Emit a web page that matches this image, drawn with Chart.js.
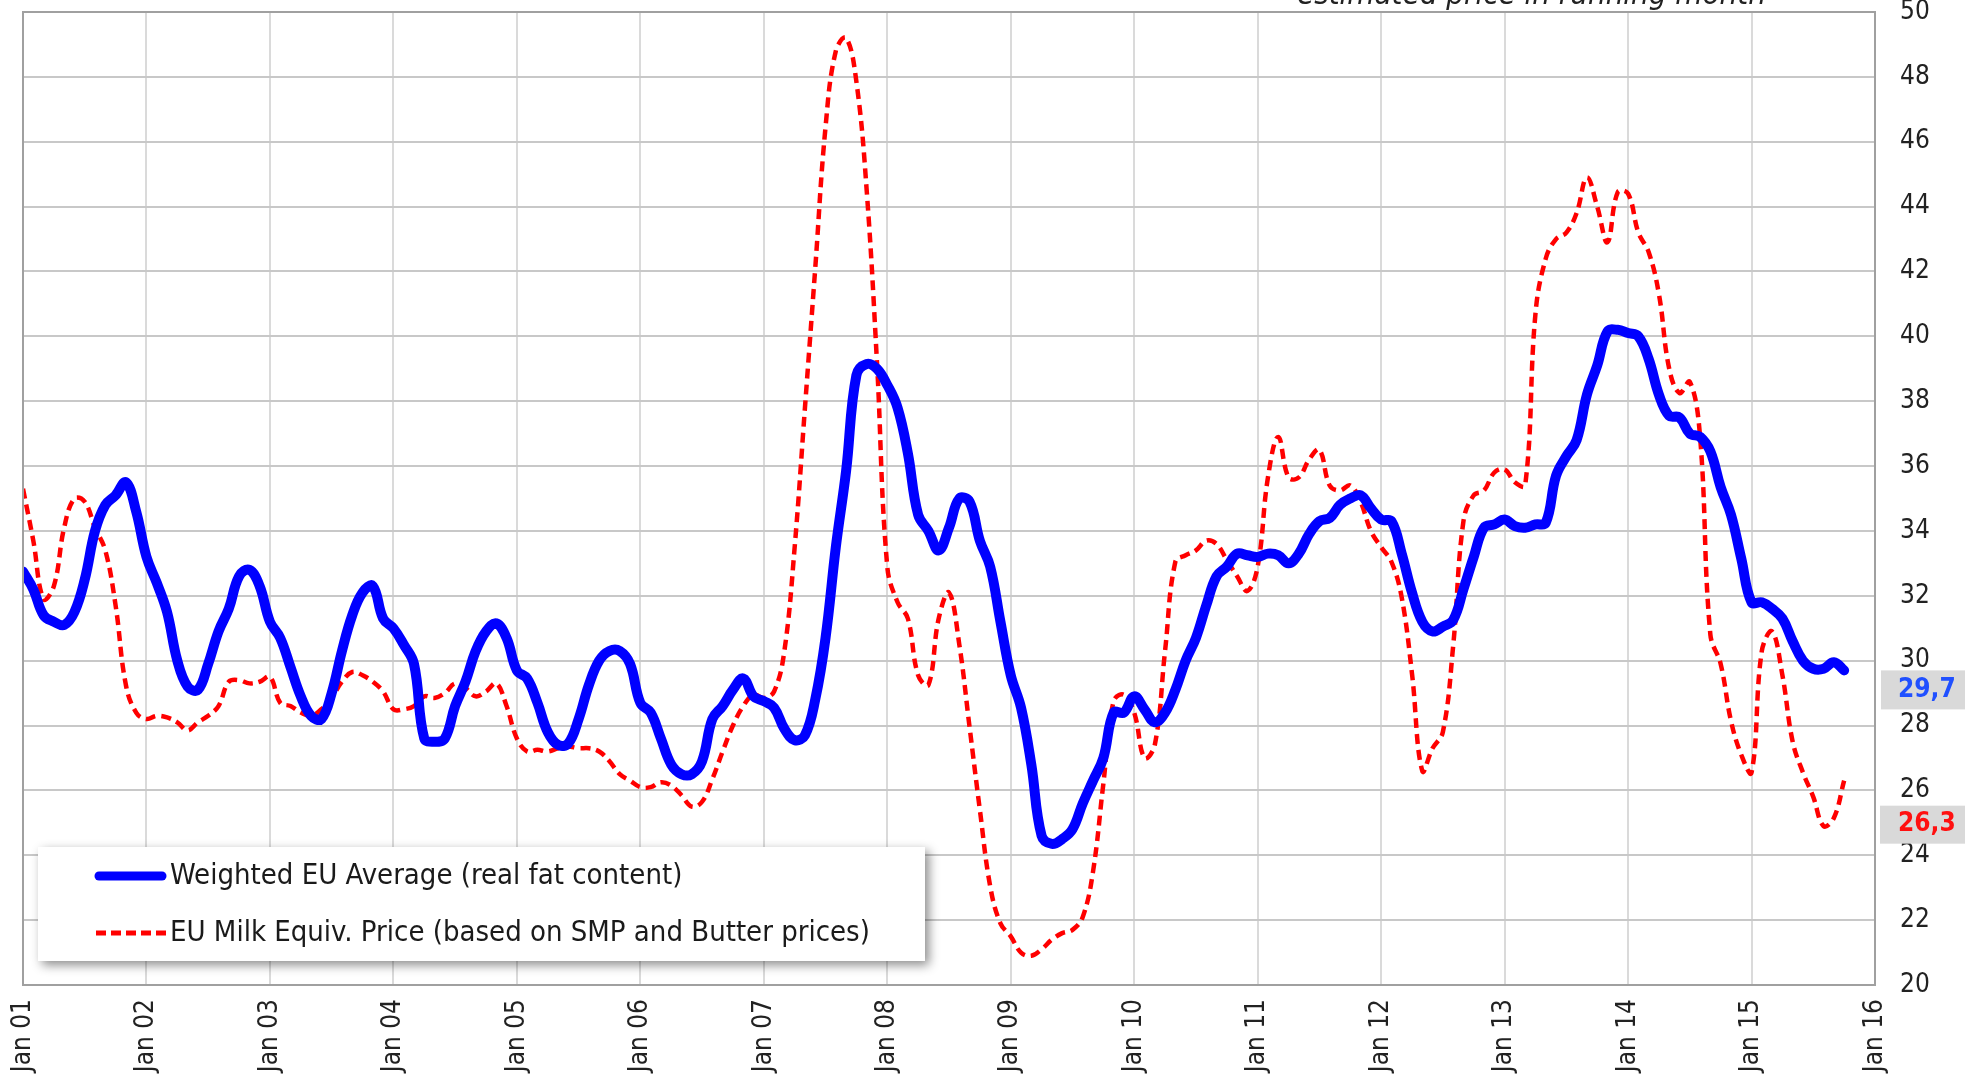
<!DOCTYPE html>
<html>
<head>
<meta charset="utf-8">
<title>EU milk prices</title>
<script src="https://cdn.jsdelivr.net/npm/chart.js@4.4.1/dist/chart.umd.min.js"></script>
<style>
  html, body { margin: 0; padding: 0; background: #fff; overflow: hidden; }
  #wrap { width: 1965px; height: 1083px; }
</style>
</head>
<body>
<div id="wrap"><canvas id="milkChart" width="1965" height="1083"></canvas></div>
<script>
// monthly values, Jan 2001 .. Oct 2015
const yearTicks = ['Jan 01', 'Jan 02', 'Jan 03', 'Jan 04', 'Jan 05', 'Jan 06', 'Jan 07', 'Jan 08',
  'Jan 09', 'Jan 10', 'Jan 11', 'Jan 12', 'Jan 13', 'Jan 14', 'Jan 15', 'Jan 16']

const weightedAvg = [
  32.75, 32.2, 31.4, 31.2, 31.1, 31.5, 32.5, 34.0, 34.8, 35.1, 35.5, 34.6,
  33.2, 32.4, 31.5, 30.0, 29.2, 29.1, 29.9, 30.9, 31.6, 32.6, 32.8, 32.3,
  31.2, 30.7, 29.8, 28.9, 28.3, 28.2, 29.0, 30.3, 31.4, 32.1, 32.3, 31.3,
  31.0, 30.5, 29.9, 27.6, 27.5, 27.6, 28.6, 29.35, 30.3, 30.9, 31.15, 30.7,
  29.7, 29.45, 28.7, 27.8, 27.4, 27.45, 28.2, 29.25, 30.0, 30.3, 30.3, 29.9,
  28.7, 28.4, 27.6, 26.8, 26.5, 26.5, 26.9, 28.2, 28.6, 29.1, 29.45, 28.9,
  28.75, 28.55, 27.9, 27.55, 27.7, 28.8, 30.7, 33.5, 35.85, 38.8, 39.15, 39.0,
  38.5, 37.8, 36.4, 34.5, 34.0, 33.4, 34.1, 35.0, 34.9, 33.7, 32.9, 31.2,
  29.55, 28.55, 26.8, 24.6, 24.35, 24.5, 24.8, 25.6, 26.3, 27.0, 28.4, 28.4,
  28.9, 28.5, 28.1, 28.4, 29.1, 30.0, 30.7, 31.7, 32.6, 32.9, 33.3, 33.25,
  33.2, 33.3, 33.25, 33.0, 33.3, 33.9, 34.3, 34.4, 34.8, 35.0, 35.1, 34.7,
  34.35, 34.3, 33.3, 32.1, 31.2, 30.9, 31.05, 31.25, 32.2, 33.2, 34.1, 34.2,
  34.35, 34.15, 34.1, 34.2, 34.25, 35.7, 36.3, 36.8, 38.2, 39.1, 40.15, 40.2,
  40.1, 40.0, 39.3, 38.2, 37.55, 37.5, 37.0, 36.9, 36.45, 35.35, 34.5, 33.15,
  31.8, 31.8, 31.6, 31.3, 30.6, 30.0, 29.75, 29.75, 29.95, 29.7
]

const milkEquiv = [
  35.3, 33.7, 31.9, 32.3, 34.1, 35.0, 34.9, 34.1, 33.4, 31.7, 29.25, 28.4,
  28.2, 28.3, 28.25, 28.1, 27.85, 28.1, 28.3, 28.6, 29.35, 29.4, 29.3, 29.35,
  29.5, 28.7, 28.6, 28.4, 28.3, 28.5, 28.85, 29.35, 29.65, 29.55, 29.35, 29.05,
  28.5, 28.5, 28.6, 28.9, 28.85, 29.0, 29.3, 29.15, 28.9, 29.05, 29.3, 28.6,
  27.6, 27.2, 27.25, 27.2, 27.3, 27.35, 27.3, 27.3, 27.2, 26.9, 26.5, 26.3,
  26.1, 26.1, 26.25, 26.15, 25.85, 25.5, 25.65, 26.35, 27.2, 28.0, 28.6, 28.95,
  28.85, 29.05, 30.3, 33.5, 37.8, 42.1, 46.45, 48.8, 49.2, 47.85, 44.5, 39.2,
  32.9, 31.8, 31.3, 29.55, 29.25, 31.3, 32.1, 30.5, 27.95, 25.4, 23.05, 21.9,
  21.5, 21.0, 20.9, 21.1, 21.4, 21.6, 21.7, 22.1, 23.5, 26.2, 28.75, 28.95,
  28.4, 27.0, 27.4, 30.3, 33.05, 33.25, 33.4, 33.7, 33.6, 33.1, 32.6, 32.15,
  32.9, 35.65, 36.9, 35.65, 35.65, 36.2, 36.5, 35.4, 35.25, 35.4, 34.9, 34.0,
  33.5, 33.05, 31.95, 29.6, 26.6, 27.3, 27.8, 30.45, 34.3, 35.1, 35.25, 35.8,
  35.9, 35.5, 35.4, 40.7, 42.4, 43.0, 43.2, 43.8, 44.9, 44.0, 42.9, 44.45,
  44.4, 43.2, 42.6, 41.3, 39.0, 38.25, 38.6, 36.9, 30.8, 29.9, 28.15, 27.1,
  26.55, 30.3, 30.9, 29.55, 27.5, 26.55, 25.8, 24.9, 25.15, 26.3
]

const seriesNames = [
  'Weighted EU Average (real fat content)',
  'EU Milk Equiv. Price (based on SMP and Butter prices)'
]
const lastLabels = ['29,7', '26,3']
const noteText = '* estimated price in running month'

const FONT = "'DejaVu Sans Condensed', 'DejaVu Sans', sans-serif"
const BLUE = '#0000ff'
const RED = '#ff0000'

const toPoints = arr => arr.map((v, i) => ({ x: i, y: v }))

// frame, legend box, end-value boxes and the note at the top
const extras = {
  id: 'extras',
  afterDraw(chart) {
    const { ctx, chartArea: a } = chart
    const y = chart.scales.y

    ctx.save()
    ctx.strokeStyle = '#a0a0a0'
    ctx.lineWidth = 2
    ctx.strokeRect(a.left, a.top, a.right - a.left, a.bottom - a.top)

    // legend
    const lx = 38, ly = 847, lw = 887, lh = 114
    ctx.save()
    ctx.shadowColor = 'rgba(0,0,0,0.45)'
    ctx.shadowBlur = 10
    ctx.shadowOffsetX = 4
    ctx.shadowOffsetY = 4
    ctx.fillStyle = '#fff'
    ctx.fillRect(lx, ly, lw, lh)
    ctx.restore()

    ctx.lineCap = 'round'
    ctx.strokeStyle = BLUE
    ctx.lineWidth = 9
    ctx.beginPath(); ctx.moveTo(99, 876); ctx.lineTo(162, 876); ctx.stroke()
    ctx.strokeStyle = RED
    ctx.lineWidth = 5
    ctx.lineCap = 'butt'
    ctx.setLineDash([10, 5])
    ctx.beginPath(); ctx.moveTo(96, 933); ctx.lineTo(168, 933); ctx.stroke()
    ctx.setLineDash([])

    ctx.fillStyle = '#1a1a1a'
    ctx.font = '29px ' + FONT
    ctx.textBaseline = 'middle'
    ctx.textAlign = 'left'
    ctx.fillText(seriesNames[0], 170, 876)
    ctx.fillText(seriesNames[1], 170, 933)

    // last values
    const yb = y.getPixelForValue(weightedAvg[weightedAvg.length - 1])
    const yr = y.getPixelForValue(milkEquiv[milkEquiv.length - 1]) + 25
    ctx.fillStyle = '#d9d9d9'
    ctx.fillRect(1881, yb, 84, 39)
    ctx.fillRect(1880, yr, 85, 38)
    ctx.font = 'bold 26px ' + FONT
    ctx.fillStyle = '#2050ff'
    ctx.fillText(lastLabels[0], 1898, yb + 20)
    ctx.fillStyle = '#ff1010'
    ctx.fillText(lastLabels[1], 1898, yr + 19)

    // note, cut by the top edge
    ctx.font = 'italic 31px ' + FONT
    ctx.fillStyle = '#222'
    ctx.textAlign = 'center'
    ctx.textBaseline = 'alphabetic'
    ctx.fillText(noteText, 1520, 4)
    ctx.restore()
  }
}

new Chart(document.getElementById('milkChart'), {
  type: 'line',
  data: {
    datasets: [{
      label: seriesNames[0],
      data: toPoints(weightedAvg),
      borderColor: BLUE,
      borderWidth: 10,
      borderCapStyle: 'round',
      borderJoinStyle: 'round',
      pointRadius: 0,
      tension: 0.4,
      fill: false
    }, {
      label: seriesNames[1],
      data: toPoints(milkEquiv),
      borderColor: RED,
      borderWidth: 4.5,
      borderDash: [10, 6],
      pointRadius: 0,
      tension: 0.4,
      fill: false
    }]
  },
  options: {
    responsive: false,
    animation: false,
    layout: { padding: { left: 23, top: 12 } },
    plugins: {
      legend: { display: false },
      tooltip: { enabled: false }
    },
    scales: {
      x: {
        type: 'linear',
        min: 0,
        max: 180,
        afterFit: scale => {
          scale.height = 98
          scale.paddingLeft = 0
          scale.paddingRight = 0
        },
        grid: { color: '#dadada', lineWidth: 2, drawTicks: false },
        border: { display: false },
        ticks: {
          stepSize: 12,
          autoSkip: false,
          minRotation: 90,
          maxRotation: 90,
          padding: 14,
          color: '#222',
          font: { family: FONT, size: 26 },
          callback: v => yearTicks[v / 12]
        }
      },
      y: {
        position: 'right',
        min: 20,
        max: 50,
        afterFit: scale => {
          scale.width = 90
          scale.paddingTop = 0
          scale.paddingBottom = 0
        },
        grid: { color: '#c8c8c8', lineWidth: 2, drawTicks: false },
        border: { display: false },
        ticks: {
          stepSize: 2,
          padding: 25,
          color: '#222',
          font: { family: FONT, size: 26 }
        }
      }
    }
  },
  plugins: [extras]
})
</script>
</body>
</html>
